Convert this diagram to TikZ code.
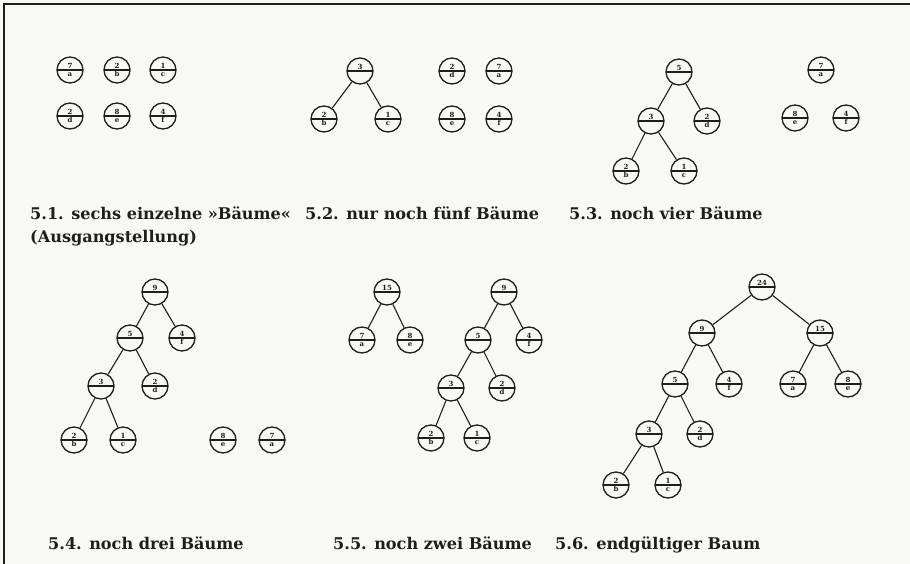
\documentclass[tikz,border=0pt]{standalone}
\usepackage{fontspec}
\setmainfont{DejaVu Serif}
\usepackage{tikz}
\usetikzlibrary{positioning}
\definecolor{ink}{HTML}{1E1E1E}
\definecolor{paper}{HTML}{F8F8F5}

\newcommand{\knoten}[4]{\node[knot] (#1) at (#2) {#3\\\vphantom{b}#4};}

\begin{document}
\begin{tikzpicture}[x=1pt,y=-1pt,
 knot/.style={circle,draw=ink,line width=1.3pt,minimum size=26pt,inner sep=0pt,
 align=center,font=\fontsize{7}{8.5}\selectfont\bfseries,text=ink,
 path picture={\draw[ink,line width=1.1pt] (path picture bounding box.west)--(path picture bounding box.east);}},
 edge/.style={draw=ink,line width=1.1pt},
 caption/.style={anchor=base west,inner sep=0pt,text=ink,font=\fontsize{16.1}{19}\selectfont\bfseries}]
\fill[paper] (0,0) rectangle (910,564);
\useasboundingbox (0,0) rectangle (910,564);
\draw[ink,line width=1.5pt] (4,564)--(4,4)--(910,4);
% 5.1
\knoten{a1}{70,70}{7}{a}
\knoten{b1}{117,70}{2}{b}
\knoten{c1}{163,70}{1}{c}
\knoten{d1}{70,116}{2}{d}
\knoten{e1}{117,116}{8}{e}
\knoten{f1}{163,116}{4}{f}
% 5.2
\knoten{bc2}{360,71}{3}{}
\knoten{b2}{324,119}{2}{b}
\knoten{c2}{388,119}{1}{c}
\knoten{d2}{452,71}{2}{d}
\knoten{a2}{499,71}{7}{a}
\knoten{e2}{452,119}{8}{e}
\knoten{f2}{499,119}{4}{f}
\draw[edge] (bc2)--(b2);
\draw[edge] (bc2)--(c2);
% 5.3
\knoten{bcd3}{679,72}{5}{}
\knoten{bc3}{651,121}{3}{}
\knoten{d3}{707,121}{2}{d}
\knoten{b3}{626,171}{2}{b}
\knoten{c3}{684,171}{1}{c}
\knoten{a3}{821,70}{7}{a}
\knoten{e3}{795,118}{8}{e}
\knoten{f3}{846,118}{4}{f}
\draw[edge] (bcd3)--(bc3);
\draw[edge] (bcd3)--(d3);
\draw[edge] (bc3)--(b3);
\draw[edge] (bc3)--(c3);
% 5.4
\knoten{bcdf4}{155,292}{9}{}
\knoten{bcd4}{130,338}{5}{}
\knoten{f4}{182,338}{4}{f}
\knoten{bc4}{101,386}{3}{}
\knoten{d4}{155,386}{2}{d}
\knoten{b4}{74,440}{2}{b}
\knoten{c4}{123,440}{1}{c}
\knoten{e4}{223,440}{8}{e}
\knoten{a4}{272,440}{7}{a}
\draw[edge] (bcdf4)--(bcd4);
\draw[edge] (bcdf4)--(f4);
\draw[edge] (bcd4)--(bc4);
\draw[edge] (bcd4)--(d4);
\draw[edge] (bc4)--(b4);
\draw[edge] (bc4)--(c4);
% 5.5
\knoten{ae5}{387,292}{15}{}
\knoten{a5}{362,340}{7}{a}
\knoten{e5}{410,340}{8}{e}
\knoten{bcdf5}{504,292}{9}{}
\knoten{bcd5}{478,340}{5}{}
\knoten{f5}{529,340}{4}{f}
\knoten{bc5}{451,388}{3}{}
\knoten{d5}{502,388}{2}{d}
\knoten{b5}{431,438}{2}{b}
\knoten{c5}{477,438}{1}{c}
\draw[edge] (ae5)--(a5);
\draw[edge] (ae5)--(e5);
\draw[edge] (bcdf5)--(bcd5);
\draw[edge] (bcdf5)--(f5);
\draw[edge] (bcd5)--(bc5);
\draw[edge] (bcd5)--(d5);
\draw[edge] (bc5)--(b5);
\draw[edge] (bc5)--(c5);
% 5.6
\knoten{all6}{762,287}{24}{}
\knoten{bcdf6}{702,333}{9}{}
\knoten{ae6}{820,333}{15}{}
\knoten{bcd6}{675,384}{5}{}
\knoten{f6}{729,384}{4}{f}
\knoten{a6}{793,384}{7}{a}
\knoten{e6}{848,384}{8}{e}
\knoten{bc6}{649,434}{3}{}
\knoten{d6}{700,434}{2}{d}
\knoten{b6}{616,485}{2}{b}
\knoten{c6}{668,485}{1}{c}
\draw[edge] (all6)--(bcdf6);
\draw[edge] (all6)--(ae6);
\draw[edge] (bcdf6)--(bcd6);
\draw[edge] (bcdf6)--(f6);
\draw[edge] (ae6)--(a6);
\draw[edge] (ae6)--(e6);
\draw[edge] (bcd6)--(bc6);
\draw[edge] (bcd6)--(d6);
\draw[edge] (bc6)--(b6);
\draw[edge] (bc6)--(c6);
% Beschriftung
\node[caption] (t51) at (30,220) {5.1. sechs einzelne »Bäume«};
\node[caption] (t51b) at (30,243) {(Ausgangstellung)};
\node[caption] (t52) at (305,220) {5.2. nur noch fünf Bäume};
\node[caption] (t53) at (569,220) {5.3. noch vier Bäume};
\node[caption] (t54) at (48,549) {5.4. noch drei Bäume};
\node[caption] (t55) at (333,549) {5.5. noch zwei Bäume};
\node[caption] (t56) at (555,549) {5.6. endgültiger Baum};
\end{tikzpicture}
\end{document}
